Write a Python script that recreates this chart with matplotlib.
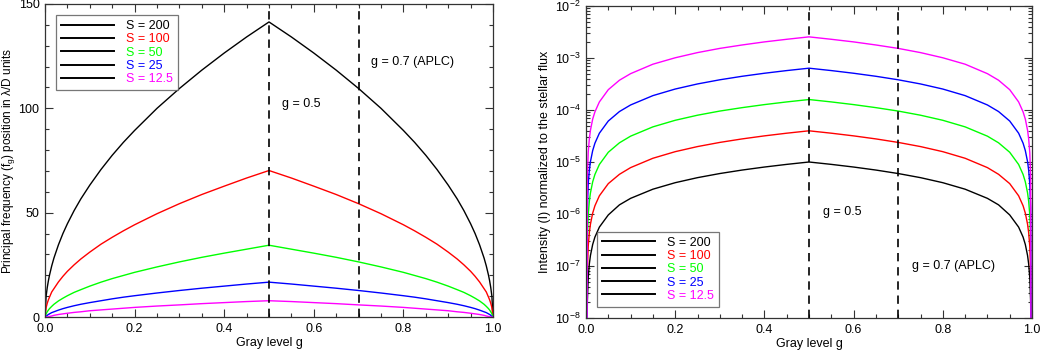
import matplotlib
matplotlib.use("Agg")
import matplotlib.pyplot as plt
from matplotlib.lines import Line2D
from matplotlib.ticker import MultipleLocator, LogLocator, NullFormatter

plt.rcParams["font.family"] = ["Liberation Sans", "DejaVu Sans"]
plt.rcParams["mathtext.fontset"] = "custom"
plt.rcParams["mathtext.rm"] = "Liberation Sans"
plt.rcParams["mathtext.it"] = "Liberation Sans:italic"

# --- data ---
series_labels = ["S = 200", "S = 100", "S = 50", "S = 25", "S = 12.5"]
series_colors = ["black", "#ff0000", "#00ff00", "#0000ff", "#ff00ff"]

# left panel: principal frequency position (lambda/D) vs gray level g
g_freq = [0.0, 0.0025, 0.005, 0.0075, 0.01, 0.015, 0.02, 0.03, 0.04, 0.05, 0.065, 0.08,
          0.1, 0.125, 0.15, 0.175, 0.2, 0.25, 0.3, 0.35, 0.4, 0.45, 0.5,
          0.55, 0.6, 0.65, 0.7, 0.75, 0.8, 0.825, 0.85, 0.875, 0.9, 0.92, 0.935,
          0.95, 0.96, 0.97, 0.98, 0.985, 0.99, 0.9925, 0.995, 0.9975, 1.0]
freq_200 = [0, 10, 14.1, 17.3, 20, 24.5, 28.3, 34.6, 40, 44.7, 51, 56.6,
            63.2, 70.7, 77.5, 83.7, 89.4, 100, 109.5, 118.3, 126.5, 134.2, 141.4,
            134.2, 126.5, 118.3, 109.5, 100, 89.4, 83.7, 77.5, 70.7, 63.2, 56.6, 51,
            44.7, 40, 34.6, 28.3, 24.5, 20, 17.3, 14.1, 10, 0]
freq_100 = [0, 4.5, 6.6, 8.2, 9.5, 12, 13.6, 16.8, 19.5, 21.9, 25, 27.8,
            31.1, 34.9, 38.2, 41.3, 44.2, 49.5, 54.3, 58.7, 62.7, 66.6, 70.2,
            66.6, 62.7, 58.7, 54.3, 49.5, 44.2, 41.3, 38.2, 34.9, 31.1, 27.8, 25,
            21.9, 19.5, 16.8, 13.6, 12, 9.5, 8.2, 6.6, 4.5, 0]
freq_50 = [0, 1.5, 2.5, 3.3, 4, 5.1, 6.1, 7.7, 9, 10.2, 11.8, 13.1,
           14.8, 16.7, 18.4, 19.9, 21.4, 24, 26.4, 28.6, 30.6, 32.5, 34.4,
           32.5, 30.6, 28.6, 26.4, 24, 21.4, 19.9, 18.4, 16.7, 14.8, 13.1, 11.8,
           10.2, 9, 7.7, 6.1, 5.1, 4, 3.3, 2.5, 1.5, 0]
freq_25 = [0, 0.25, 0.8, 1.2, 1.5, 2.1, 2.5, 3.3, 4, 4.6, 5.4, 6.1,
           6.9, 7.8, 8.7, 9.5, 10.2, 11.5, 12.7, 13.8, 14.8, 15.8, 16.7,
           15.8, 14.8, 13.8, 12.7, 11.5, 10.2, 9.5, 8.7, 7.8, 6.9, 6.1, 5.4,
           4.6, 4, 3.3, 2.5, 2.1, 1.5, 1.2, 0.8, 0.25, 0]
freq_12 = [0, 0, 0, 0.1, 0.25, 0.5, 0.8, 1.2, 1.5, 1.8, 2.2, 2.5,
           3.0, 3.4, 3.8, 4.2, 4.6, 5.25, 5.8, 6.4, 6.9, 7.4, 7.8,
           7.4, 6.9, 6.4, 5.8, 5.25, 4.6, 4.2, 3.8, 3.4, 3.0, 2.5, 2.2,
           1.8, 1.5, 1.2, 0.8, 0.5, 0.25, 0.1, 0, 0, 0]

# right panel: intensity normalized to the stellar flux vs gray level g
g_int = [0.002, 0.003, 0.005, 0.0075, 0.01, 0.015, 0.02, 0.03, 0.05, 0.075, 0.1, 0.15,
         0.2, 0.25, 0.3, 0.35, 0.4, 0.45, 0.5, 0.55, 0.6, 0.65, 0.7, 0.75, 0.8, 0.85,
         0.9, 0.925, 0.95, 0.97, 0.98, 0.985, 0.99, 0.9925, 0.995, 0.997, 0.998]
int_200 = [1e-10, 2e-8, 6e-8, 1.1e-7, 1.6e-7, 2.6e-7, 3.6e-7, 5.6e-7, 9.6e-7, 1.5e-6,
           2.0e-6, 3.0e-6, 4.0e-6, 5.0e-6, 6.0e-6, 7.0e-6, 8.0e-6, 9.0e-6, 1.0e-5,
           9.0e-6, 8.0e-6, 7.0e-6, 6.0e-6, 5.0e-6, 4.0e-6, 3.0e-6, 2.0e-6, 1.5e-6,
           9.6e-7, 5.6e-7, 3.6e-7, 2.6e-7, 1.6e-7, 1.1e-7, 6e-8, 2e-8, 1e-10]
int_100 = [1e-10, 8e-8, 2.4e-7, 4.4e-7, 6.4e-7, 1.04e-6, 1.44e-6, 2.24e-6, 3.84e-6, 5.8e-6,
           7.8e-6, 1.18e-5, 1.58e-5, 1.98e-5, 2.38e-5, 2.78e-5, 3.18e-5, 3.58e-5, 3.98e-5,
           3.58e-5, 3.18e-5, 2.78e-5, 2.38e-5, 1.98e-5, 1.58e-5, 1.18e-5, 7.8e-6, 5.8e-6,
           3.84e-6, 2.24e-6, 1.44e-6, 1.04e-6, 6.4e-7, 4.4e-7, 2.4e-7, 8e-8, 1e-10]
int_50 = [1e-10, 3.2e-7, 9.6e-7, 1.76e-6, 2.56e-6, 4.16e-6, 5.76e-6, 8.96e-6, 1.54e-5, 2.34e-5,
          3.14e-5, 4.74e-5, 6.34e-5, 7.94e-5, 9.54e-5, 1.11e-4, 1.27e-4, 1.43e-4, 1.59e-4,
          1.43e-4, 1.27e-4, 1.11e-4, 9.54e-5, 7.94e-5, 6.34e-5, 4.74e-5, 3.14e-5, 2.34e-5,
          1.54e-5, 8.96e-6, 5.76e-6, 4.16e-6, 2.56e-6, 1.76e-6, 9.6e-7, 3.2e-7, 1e-10]
int_25 = [1e-10, 1.28e-6, 3.84e-6, 7.0e-6, 1.02e-5, 1.66e-5, 2.3e-5, 3.58e-5, 6.14e-5, 9.34e-5,
          1.25e-4, 1.89e-4, 2.53e-4, 3.17e-4, 3.81e-4, 4.45e-4, 5.09e-4, 5.73e-4, 6.37e-4,
          5.73e-4, 5.09e-4, 4.45e-4, 3.81e-4, 3.17e-4, 2.53e-4, 1.89e-4, 1.25e-4, 9.34e-5,
          6.14e-5, 3.58e-5, 2.3e-5, 1.66e-5, 1.02e-5, 7.0e-6, 3.84e-6, 1.28e-6, 1e-10]
int_12 = [1e-10, 5.1e-6, 1.54e-5, 2.8e-5, 4.1e-5, 6.7e-5, 9.2e-5, 1.43e-4, 2.46e-4, 3.74e-4,
          5.0e-4, 7.6e-4, 1.01e-3, 1.27e-3, 1.53e-3, 1.78e-3, 2.04e-3, 2.29e-3, 2.55e-3,
          2.29e-3, 2.04e-3, 1.78e-3, 1.53e-3, 1.27e-3, 1.01e-3, 7.6e-4, 5.0e-4, 3.74e-4,
          2.46e-4, 1.43e-4, 9.2e-5, 6.7e-5, 4.1e-5, 2.8e-5, 1.54e-5, 5.1e-6, 1e-10]

g_marks = [0.5, 0.7]

freq_series = [freq_200, freq_100, freq_50, freq_25, freq_12]
int_series = [int_200, int_100, int_50, int_25, int_12]

fig = plt.figure(figsize=(10.41, 3.54), dpi=100)
ax1 = fig.add_axes([45 / 1041, 37 / 354, 448 / 1041, 313 / 354])
ax2 = fig.add_axes([586 / 1041, 36 / 354, 446 / 1041, 312 / 354])

fs = 9


def style_axis(ax):
    for sp in ax.spines.values():
        sp.set_color("#333333")
        sp.set_linewidth(0.9)
    ax.tick_params(which="both", direction="in", top=True, right=True,
                   labelsize=fs, color="#333333", pad=4)
    ax.tick_params(which="major", length=6, width=0.8)
    ax.tick_params(which="minor", length=3, width=0.8)
    ax.set_xlim(0, 1)
    ax.xaxis.set_major_locator(MultipleLocator(0.2))
    ax.xaxis.set_minor_locator(MultipleLocator(0.05))
    ax.xaxis.set_major_formatter(plt.FormatStrFormatter("%.1f"))
    ax.set_xlabel("Gray level g", fontsize=fs, labelpad=2)


# left panel
for vals, col in zip(freq_series, series_colors):
    ax1.plot(g_freq, vals, color=col, lw=1.0)
for gm in g_marks:
    ax1.axvline(gm, color="black", lw=1.2, ls=(0, (5, 3.5)))
style_axis(ax1)
ax1.set_ylim(0, 150)
ax1.yaxis.set_major_locator(MultipleLocator(50))
ax1.yaxis.set_minor_locator(MultipleLocator(10))
ax1.set_ylabel(r"Principal frequency (f$_\mathregular{g}$) position in $\mathregular{\lambda}$/D units",
               fontsize=8.5, labelpad=1)
ax1.text(0.53, 102, "g = 0.5", fontsize=fs, va="center")
ax1.text(0.728, 122, "g = 0.7 (APLC)", fontsize=fs, va="center")

# right panel
for vals, col in zip(int_series, series_colors):
    ax2.plot(g_int, vals, color=col, lw=1.0)
for gm in g_marks:
    ax2.axvline(gm, color="black", lw=1.2, ls=(0, (5, 3.5)))
style_axis(ax2)
ax2.set_yscale("log")
ax2.set_ylim(1e-8, 1e-2)
ax2.yaxis.set_major_locator(LogLocator(base=10, numticks=10))
ax2.yaxis.set_minor_locator(LogLocator(base=10, subs=range(2, 10), numticks=20))
ax2.yaxis.set_minor_formatter(NullFormatter())
ax2.set_ylabel("Intensity (I) normalized to the stellar flux", fontsize=fs, labelpad=3)
ax2.text(0.531, 1.1e-6, "g = 0.5", fontsize=fs, va="center")
ax2.text(0.73, 1.0e-7, "g = 0.7 (APLC)", fontsize=fs, va="center")

# legends: black line handles, coloured text
handles = [Line2D([], [], color="black", lw=1.4) for _ in series_labels]
for ax, loc, anchor in [(ax1, "upper left", (0.0, 1.0)), (ax2, "lower left", (0.0, 0.0))]:
    leg = ax.legend(handles, series_labels, loc=loc, bbox_to_anchor=anchor,
                    fontsize=fs, labelcolor=series_colors, frameon=True,
                    fancybox=False, edgecolor="#555555", handlelength=4.2,
                    handletextpad=1.0, labelspacing=0.1, borderpad=0.4,
                    borderaxespad=0.9)
    leg.get_frame().set_linewidth(0.9)

fig.savefig("out.png", dpi=100)
